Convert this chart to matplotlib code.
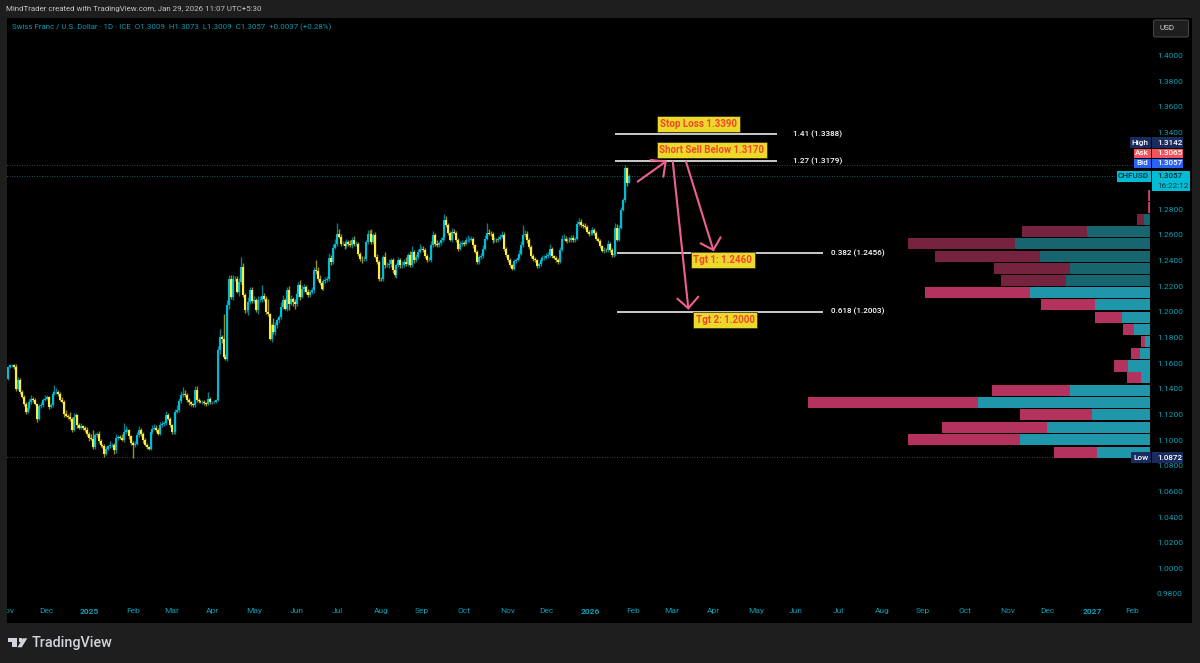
import matplotlib
matplotlib.use("Agg")
import matplotlib.pyplot as plt
from matplotlib.patches import Rectangle, Polygon, FancyBboxPatch
import numpy as np
import pandas as pd

plt.rcParams["font.family"] = ["Roboto", "DejaVu Sans"]

W, H = 1200, 663

# daily closes, Nov 2024 -> Jan 29 2026
closes_a = [
    1.1571, 1.1584, 1.1584, 1.1571, 1.1402, 1.1467, 1.1376, 1.1337, 1.1285, 1.1220, 1.1254, 1.1298,
    1.1324, 1.1316, 1.1285, 1.1168, 1.1264, 1.1272, 1.1316, 1.1324, 1.1337, 1.1259, 1.1272, 1.1363,
    1.1376, 1.1376, 1.1363, 1.1316, 1.1298, 1.1207, 1.1189, 1.1181, 1.1168, 1.1082, 1.1181, 1.1194,
    1.1116, 1.1098, 1.1108, 1.1098, 1.1077, 1.1051, 1.1020, 1.1012, 1.0947, 1.1038, 1.1051, 1.0994,
    1.0960, 1.0952, 1.0895, 1.0934, 1.0952, 1.0960, 1.0960, 1.0921, 1.1020, 1.1025, 1.1020, 1.1004,
    1.1064, 1.1077, 1.1077, 1.1030, 1.0978, 1.0960, 1.0973, 1.1038, 1.1082, 1.1051, 1.0999, 1.0965,
    1.0947, 1.0934, 1.1064, 1.1090, 1.1098, 1.1082, 1.1051, 1.1116, 1.1124, 1.1134, 1.1194, 1.1168,
    1.1116, 1.1064, 1.1064, 1.1220, 1.1233, 1.1306, 1.1350, 1.1363, 1.1350, 1.1311, 1.1298, 1.1285,
    1.1272, 1.1389, 1.1311, 1.1306, 1.1298, 1.1298, 1.1290, 1.1285, 1.1324, 1.1298, 1.1298, 1.1298,
    1.1311,
]
closes_b = [
    1.1701, 1.1805, 1.1792, 1.1649, 1.1636, 1.2052, 1.2260, 1.2117, 1.2260, 1.2260, 1.2156, 1.2234,
    1.2351, 1.2130, 1.2013, 1.2013, 1.2078, 1.2169, 1.2086, 1.2091, 1.2013, 1.2091, 1.2096, 1.2122,
    1.2104, 1.2000, 1.1982, 1.1792, 1.1896, 1.1844, 1.1896, 1.1935, 1.1961, 1.2039, 1.2091, 1.2026,
    1.2169, 1.2065, 1.2104, 1.2078, 1.2065, 1.2143, 1.2208, 1.2117, 1.2182, 1.2195, 1.2156, 1.2130,
    1.2156, 1.2169, 1.2325, 1.2320, 1.2260, 1.2226, 1.2182, 1.2242, 1.2252, 1.2260, 1.2424, 1.2390,
    1.2502, 1.2528, 1.2606, 1.2585, 1.2533, 1.2533, 1.2512, 1.2546, 1.2533, 1.2520, 1.2559, 1.2533,
    1.2533, 1.2455, 1.2416, 1.2411, 1.2416, 1.2546, 1.2611, 1.2606, 1.2546, 1.2598, 1.2429, 1.2390,
    1.2260, 1.2255, 1.2429, 1.2364, 1.2364, 1.2377, 1.2403, 1.2325, 1.2286, 1.2364, 1.2403, 1.2364,
    1.2364, 1.2390, 1.2377, 1.2442, 1.2364, 1.2468, 1.2403, 1.2429, 1.2468, 1.2494,
]
closes_c = [
    1.2494, 1.2481, 1.2434, 1.2408, 1.2408, 1.2520, 1.2598, 1.2533, 1.2520, 1.2538, 1.2559, 1.2580,
    1.2715, 1.2676, 1.2616, 1.2564, 1.2624, 1.2616, 1.2564, 1.2494, 1.2528, 1.2538, 1.2533, 1.2559,
    1.2564, 1.2564, 1.2572, 1.2520, 1.2468, 1.2390, 1.2429, 1.2434, 1.2494, 1.2572, 1.2616, 1.2611,
    1.2606, 1.2559, 1.2564, 1.2559, 1.2572, 1.2585, 1.2598, 1.2494, 1.2442, 1.2403, 1.2364, 1.2338,
    1.2398, 1.2408, 1.2424, 1.2455, 1.2520, 1.2598, 1.2606, 1.2559, 1.2507, 1.2434, 1.2416, 1.2403,
    1.2356, 1.2372, 1.2408, 1.2424, 1.2424, 1.2434, 1.2442, 1.2494, 1.2434, 1.2424, 1.2408, 1.2390,
    1.2486, 1.2572, 1.2572, 1.2554, 1.2564, 1.2559, 1.2580, 1.2559, 1.2572, 1.2684, 1.2702, 1.2676,
    1.2668, 1.2663, 1.2624, 1.2611, 1.2611, 1.2637, 1.2616, 1.2572, 1.2554, 1.2512, 1.2476, 1.2486,
    1.2481, 1.2528, 1.2486, 1.2442, 1.2450, 1.2658, 1.2564, 1.2658, 1.2798, 1.2871, 1.3126, 1.3009,
    1.3057,
]
first_open = 1.1480

# wick lengths in pips above / below the candle body
upper_wick = [
    8, 10, 12, 6, 20, 25, 14, 18, 12, 10, 20, 22, 30, 12, 16, 8, 14, 28, 12, 24, 18, 10, 16, 22,
    50, 30, 16, 12, 20, 14, 26, 18, 40, 12, 30, 18, 10, 16, 22, 12, 14, 24, 16, 30, 70, 14, 10, 18,
    12, 8, 14, 22, 12, 30, 16, 14, 26, 18, 14, 28, 70, 30, 16, 12, 10, 14, 18, 24, 30, 12, 10, 14,
    10, 8, 24, 26, 30, 16, 14, 28, 22, 18, 34, 14, 12, 10, 8, 22, 40, 20, 32, 48, 30, 14, 16, 10,
    8, 34, 30, 14, 10, 12, 14, 10, 48, 12, 10, 14, 8,
    30, 60, 18, 195, 20, 40, 30, 24, 30, 20, 18, 30, 78, 30, 16, 26, 36, 24, 22, 30, 20, 34, 30, 86,
    24, 20, 100, 12, 14, 60, 24, 18, 16, 38, 44, 14, 22, 30, 26, 12, 20, 30, 24, 40, 30, 24, 18, 20,
    16, 24, 26, 78, 30, 24, 14, 18, 24, 20, 34, 22, 30, 40, 88, 42, 26, 22, 18, 20, 14, 30, 24, 36,
    18, 16, 14, 18, 22, 18, 30, 26, 38, 18, 26, 20, 14, 16, 12, 38, 22, 34, 20, 14, 30, 18, 26, 16,
    32, 20, 36, 18, 30, 44, 18, 26, 20, 34,
    20, 18, 14, 16, 22, 36, 30, 18, 24, 12, 22, 24, 52, 30, 18, 14, 28, 22, 16, 14, 24, 20, 18, 26,
    34, 22, 20, 16, 12, 14, 18, 22, 24, 30, 78, 32, 20, 14, 20, 16, 18, 24, 30, 22, 16, 12, 18, 12,
    14, 16, 18, 26, 30, 78, 32, 22, 16, 18, 20, 14, 12, 14, 20, 16, 22, 24, 26, 34, 14, 12, 10, 14,
    20, 30, 36, 18, 16, 20, 18, 16, 14, 22, 30, 26, 20, 24, 18, 16, 14, 24, 18, 14, 12, 14, 10, 18,
    16, 30, 14, 16, 20, 34, 24, 22, 18, 20, 16, 2, 16,
]
lower_wick = [
    12, 8, 10, 14, 18, 12, 14, 10, 16, 14, 12, 8, 14, 18, 12, 30, 12, 10, 16, 12, 14, 20, 12, 10,
    8, 14, 18, 12, 10, 24, 12, 14, 16, 20, 12, 14, 18, 14, 12, 16, 14, 18, 30, 14, 20, 16, 12, 14,
    16, 10, 23, 14, 12, 16, 14, 30, 18, 16, 14, 12, 20, 14, 12, 18, 16, 100, 14, 12, 10, 16, 18, 14,
    16, 12, 14, 18, 12, 16, 14, 12, 16, 14, 18, 12, 14, 16, 18, 14, 12, 16, 14, 12, 16, 14, 22, 18,
    14, 12, 16, 14, 12, 18, 14, 16, 12, 14, 18, 12, 10,
    8, 30, 36, 10, 8, 22, 30, 16, 28, 20, 12, 30, 14, 14, 18, 10, 36, 14, 20, 18, 12, 30, 14, 18,
    16, 18, 12, 12, 24, 14, 26, 18, 24, 20, 18, 12, 16, 48, 14, 30, 40, 18, 24, 26, 12, 30, 18, 16,
    14, 20, 18, 22, 18, 16, 12, 14, 18, 16, 20, 26, 18, 14, 16, 10, 18, 14, 22, 12, 18, 16, 24, 16,
    18, 16, 22, 26, 14, 18, 20, 12, 16, 18, 12, 20, 18, 14, 16, 22, 14, 18, 30, 24, 14, 20, 16, 18,
    20, 14, 16, 22, 14, 16, 20, 12, 14, 10,
    14, 12, 16, 18, 14, 16, 12, 20, 14, 12, 16, 14, 18, 12, 16, 14, 18, 12, 16, 20, 14, 12, 16, 14,
    12, 16, 14, 18, 12, 14, 20, 14, 16, 12, 10, 14, 16, 18, 14, 12, 16, 14, 12, 16, 12, 14, 16, 14,
    12, 16, 14, 12, 14, 10, 16, 18, 14, 12, 16, 14, 12, 16, 14, 12, 16, 14, 12, 16, 14, 12, 16, 14,
    12, 10, 14, 12, 18, 14, 16, 12, 14, 12, 14, 16, 12, 14, 12, 16, 14, 12, 16, 14, 12, 14, 12, 16,
    14, 12, 18, 14, 10, 14, 12, 10, 12, 14, 10, 28, 2,
]

# volume profile rows (price at the row centre, up and down volume)
vp_prices = [1.2908, 1.2814, 1.2721, 1.2628, 1.2530, 1.2435, 1.2341, 1.2245, 1.2150, 1.2055, 1.1959,
             1.1863, 1.1769, 1.1674, 1.1578, 1.1486, 1.1389, 1.1292, 1.1196, 1.1101, 1.1003, 1.0907]
vp_up = [1, 1, 6, 63, 135, 110, 80, 84, 120, 55, 28, 16, 5, 10, 22, 9, 80, 172, 58, 103, 130, 53]
vp_down = [1, 0.5, 6.5, 65, 107, 105, 76, 65, 105, 54, 27, 11, 4, 9, 14, 14, 78, 170, 72, 105, 112, 43]
vp_dim = [False, False, True, True, True, True, True, True, False, False, False,
          False, False, False, False, False, False, False, False, False, False, False]

# 1.32 and 1.30 sit under the price tags and are not shown
price_ticks = [1.40, 1.38, 1.36, 1.34, 1.28, 1.26, 1.24, 1.22, 1.20, 1.18, 1.16, 1.14,
               1.12, 1.10, 1.08, 1.06, 1.04, 1.02, 1.00, 0.98]

high_price = 1.3142
last_price = 1.3057
low_price = 1.0872

fib_levels = [1.3388, 1.3179, 1.2456, 1.2003]
fib_names = ["1.41 (1.3388)", "1.27 (1.3179)", "0.382 (1.2456)", "0.618 (1.2003)"]
fib_start = [316.8, 316.8, 317.8, 317.8]
fib_end = [401, 401, 425, 425]
fib_label_x = [409.4, 409.4, 429.1, 429.1]

note_texts = ["Stop Loss 1.3390", "Short Sell Below 1.3170", "Tgt 1: 1.2460", "Tgt 2: 1.2000"]
note_x = [360.4, 367.2, 372.9, 374.0]
note_y = [1.3466, 1.3263, 1.2405, 1.1937]

# hand drawn arrows: tail, tip, two barbs (bar number, price)
arrows = [
    [(328.5, 1.3016), (343.1, 1.3172), (335.3, 1.3185), (341.9, 1.3055)],
    [(346.8, 1.3172), (354.9, 1.2028), (349.2, 1.2103), (360.1, 1.2119)],
    [(353.7, 1.3172), (367.9, 1.2483), (361.3, 1.2535), (371.7, 1.2582)],
]

TEAL = "#0a9fb5"
UP = "#00bcd4"
DOWN = "#ffeb3b"
GREY = "#1e1e1e"
PINK = "#ef5f92"


def fx(px):
    return px / W


def fy(py):
    return 1 - py / H


def fig_rect(x0, y0, x1, y1, color, z=6):
    fig.add_artist(Rectangle((fx(x0), fy(y1)), (x1 - x0) / W, (y1 - y0) / H,
                             transform=fig.transFigure, facecolor=color, edgecolor="none", zorder=z))


def fig_text(x, y, s, color, size=5.9, ha="left", weight="normal", z=7):
    fig.text(fx(x), fy(y), s, color=color, fontsize=size, ha=ha, va="center", fontweight=weight, zorder=z)


closes = np.array(closes_a + closes_b + closes_c)
opens = np.r_[first_open, closes[:-1]]
highs = np.maximum(opens, closes) + np.array(upper_wick) * 1e-4
lows = np.minimum(opens, closes) - np.array(lower_wick) * 1e-4

# bars sit on a business day axis, that's why the months are evenly spaced
all_days = pd.bdate_range("2024-11-01", "2027-03-31")
bar_days = pd.bdate_range(end="2026-01-29", periods=len(closes))
bar_x = all_days.get_indexer(bar_days)

month_first = pd.Series(np.arange(len(all_days)), index=all_days).groupby([all_days.year, all_days.month]).first()
tick_x = month_first.values
tick_labels = [all_days[i].strftime("%b") if all_days[i].month != 1 else str(all_days[i].year) for i in tick_x]

fig = plt.figure(figsize=(W / 100, H / 100), dpi=100, facecolor=GREY)
fig_rect(7, 18, 1192, 623, "black", z=-1)

ax = fig.add_axes([0, fy(602), fx(1151), (602 - 18) / H])
ax.patch.set_visible(False)
for s in ax.spines.values():
    s.set_visible(False)

ax.hlines(high_price, -4, 596, color="#5a5a5a", lw=0.6, linestyles=(0, (1, 2)))
ax.hlines(last_price, -4, 596, color="#0a7f8f", lw=0.6, linestyles=(0, (1, 2)))
ax.hlines(low_price, -4, 596, color="#5a5a5a", lw=0.6, linestyles=(0, (1, 2)))

is_up = closes >= opens
ax.vlines(bar_x[is_up], lows[is_up], highs[is_up], color="#0a7d8e", lw=1.0, zorder=2)
ax.vlines(bar_x[~is_up], lows[~is_up], highs[~is_up], color="#9c8f20", lw=1.0, zorder=2)
ax.vlines(bar_x[is_up], opens[is_up], closes[is_up], color=UP, lw=1.5, zorder=3)
ax.vlines(bar_x[~is_up], closes[~is_up], opens[~is_up], color=DOWN, lw=1.5, zorder=3)

ax.yaxis.tick_right()
ax.set_yticks(price_ticks)
ax.set_yticklabels(["%.4f" % p for p in price_ticks])
ax.tick_params(axis="y", length=0, pad=4.2, labelcolor=TEAL, labelsize=6)
ax.set_xticks(tick_x)
ax.set_xticklabels(tick_labels)
ax.tick_params(axis="x", length=0, pad=4.5, labelcolor=TEAL, labelsize=6)
for lab in ax.get_xticklabels():
    if lab.get_text().startswith("20"):
        lab.set_fontweight("bold")
# set_xticks widens the view, so limits go after it
ax.set_xlim(-3.33, 595.7)
ax.set_ylim(0.97371, 1.42925)

# fib levels and the notes on top of them
for lev, name, x0, x1, lx in zip(fib_levels, fib_names, fib_start, fib_end, fib_label_x):
    ax.plot([x0, x1], [lev, lev], color="#ececec", lw=1.2, zorder=4, solid_capstyle="butt")
    ax.text(lx, lev, name, color="white", fontsize=5.9, va="center", ha="left", fontweight="medium")

for t, x, y in zip(note_texts, note_x, note_y):
    ax.text(x, y, t, color="#f4462a", fontsize=7, fontweight="bold", ha="center", va="center", zorder=6,
            bbox=dict(boxstyle="square,pad=0.3", facecolor="#ecd92b", edgecolor="#2a2a10", lw=0.5))

for tail, tip, b1, b2 in arrows:
    ax.plot([tail[0], tip[0]], [tail[1], tip[1]], color=PINK, lw=1.5, zorder=5, solid_capstyle="round")
    ax.plot([b1[0], tip[0], b2[0]], [b1[1], tip[1], b2[1]], color=PINK, lw=1.5, zorder=5,
            solid_capstyle="round", solid_joinstyle="miter")

# volume profile grows to the left from the price scale
ax_vp = ax.twiny()
ax_vp.patch.set_visible(False)
ax_vp.set_xlim(1151, 0)
ax_vp.set_ylim(ax.get_ylim())
ax_vp.xaxis.set_visible(False)
for s in ax_vp.spines.values():
    s.set_visible(False)
up_col = ["#17656f" if d else "#1f96a9" for d in vp_dim]
down_col = ["#76233f" if d else "#b4325e" for d in vp_dim]
ax_vp.barh(vp_prices, vp_up, height=0.0086, color=up_col, left=1)
ax_vp.barh(vp_prices, vp_down, height=0.0086, color=down_col, left=1 + np.array(vp_up))

# left strip hides the start of the first month label
fig_rect(0, 18, 7, 623, GREY, z=5)

# header and legend
fig_text(6, 9, "MindTrader created with TradingView.com, Jan 29, 2026 11:07 UTC+5:30", "#c4c4c4", size=5.7)
fig_text(12, 27.5, "Swiss Franc / U.S. Dollar · 1D · ICE  O1.3009  H1.3073  L1.3009  C1.3057  +0.0037 (+0.28%)",
         "#0a9bb0", size=5.7)

# USD button
fig.add_artist(FancyBboxPatch((fx(1153.5), fy(37)), 35 / W, 17 / H, transform=fig.transFigure,
                              boxstyle="round,pad=0,rounding_size=0.002", facecolor="#1e1e1e",
                              edgecolor="#444444", lw=0.8, zorder=6))
fig_text(1159, 28.5, "USD", "#d0d0d0", size=5.9)

# price tags on the right
for lab, val, y0, y1, x0, col in [("High", "1.3142", 137.5, 148, 1130, "#1a2b5e"),
                                  ("Ask", "1.3065", 148.5, 158, 1133.5, "#f2535d"),
                                  ("Bid", "1.3057", 158.5, 168, 1134, "#2a62f5"),
                                  ("Low", "1.0872", 452, 463, 1131, "#1a2b5e")]:
    fig_rect(x0, y0, 1150.5, y1, col)
    fig_rect(1151.5, y0, 1183, y1, col)
    fig_text((x0 + 1150.5) / 2, (y0 + y1) / 2, lab, "white", ha="center", weight="medium")
    fig_text(1157, (y0 + y1) / 2, val, "white", weight="medium")

fig_rect(1117, 171, 1150.5, 182, UP)
fig_rect(1151.5, 171, 1190, 191, UP)
fig_text(1133.5, 176.5, "CHFUSD", "#0f2a33", ha="center", weight="medium")
fig_text(1157, 176.5, "1.3057", "#0f2a33", weight="medium")
fig_text(1157, 185.5, "16:22:12", "#0f3a44")

# TradingView logo
logo = "#d1d4dc"
fig.add_artist(Polygon([(fx(7.7), fy(638.3)), (fx(17.3), fy(638.3)), (fx(17.3), fy(647.3)), (fx(11.7), fy(647.3)),
                        (fx(11.7), fy(641.7)), (fx(7.7), fy(641.7))], closed=True, transform=fig.transFigure,
                       facecolor=logo, edgecolor="none", zorder=6))
fig.add_artist(Polygon([(fx(22.7), fy(638.3)), (fx(27.3), fy(638.3)), (fx(21.7), fy(647.3)), (fx(17.5), fy(647.3))],
                       closed=True, transform=fig.transFigure, facecolor=logo, edgecolor="none", zorder=6))
fig_rect(19, 638.3, 22.4, 641.7, logo)
fig_text(32, 643.5, "TradingView", logo, size=10.4, weight="medium")

plt.savefig("out.png", dpi=100, facecolor=GREY)
plt.close()
